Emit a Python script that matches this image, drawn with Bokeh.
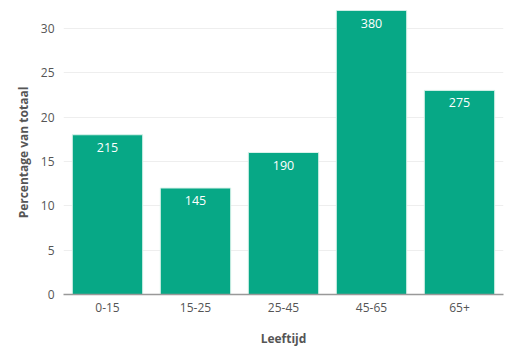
from bokeh.plotting import figure
from bokeh.models import ColumnDataSource, Range1d, FactorRange
from bokeh.core.properties import value
from bokeh.embed import file_html
from bokeh.resources import INLINE

categories = ["0-15", "15-25", "25-45", "45-65", "65+"]
percentages = [18, 12, 16, 32, 23]
counts = ["215", "145", "190", "380", "275"]

source = ColumnDataSource(dict(cat=categories, pct=percentages, cnt=counts))

p = figure(x_range=FactorRange(*categories, range_padding=0), y_range=Range1d(0, 32),
           width=509, height=349, output_backend="svg", toolbar_location=None,
           min_border_left=63, min_border_right=6, min_border_top=10, min_border_bottom=0)
p.outline_line_color = None
p.background_fill_color = "white"
p.border_fill_color = "white"

p.vbar(x="cat", top="pct", width=0.8, source=source, fill_color="#07a886",
       line_color="#d9f2ea", line_width=1)
p.text(x="cat", y="pct", text="cnt", source=source, text_color="white",
       text_align="center", text_baseline="top", y_offset=8,
       text_font=value("Open Sans"), text_font_size="12.5px")

p.xgrid.grid_line_color = None
p.ygrid.grid_line_color = "#eeeeee"
p.yaxis.ticker = [0, 5, 10, 15, 20, 25, 30]

for ax in (p.xaxis, p.yaxis):
    ax.major_label_text_font = "Open Sans"
    ax.major_label_text_font_size = "12px"
    ax.major_label_text_color = "#555555"
    ax.axis_label_text_font = "Open Sans"
    ax.axis_label_text_font_size = "12px"
    ax.axis_label_text_font_style = "bold"
    ax.axis_label_text_color = "#555555"
    ax.major_tick_line_color = None
    ax.minor_tick_line_color = None

p.yaxis.axis_line_color = None
p.xaxis.axis_line_color = "#999999"
p.xaxis.axis_line_width = 1.5
p.yaxis.axis_label = "Percentage van totaal"
p.xaxis.axis_label = "Leeftijd"
p.xaxis.axis_label_standoff = 15
p.yaxis.axis_label_standoff = 6
p.xaxis.major_label_standoff = 2
p.yaxis.major_label_standoff = 3

open("out.html", "w").write(file_html(p, INLINE))
